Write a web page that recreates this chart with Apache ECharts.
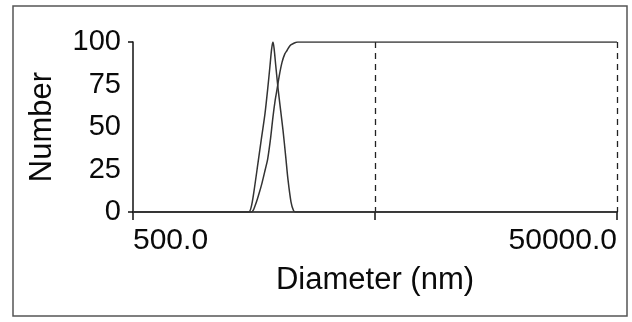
<!DOCTYPE html>
<html>
<head>
<meta charset="utf-8">
<script src="https://cdn.jsdelivr.net/npm/echarts@6.0.0/dist/echarts.min.js"></script>
<style>
    html, body { margin: 0; padding: 0; background: #fff; }
    #main { width: 632px; height: 322px; }
</style>
</head>
<body>
<div id="main"></div>
<script>
// size distribution (Number %) vs diameter in nm
var distDiameter = [500, 1500, 1540, 1580, 1643, 1700, 1756, 1800, 1841, 1870, 1894, 1915, 1945, 1990, 2040, 2084, 2140, 2185, 2248, 2300, 2340, 50000];
var distNumber = [0, 0, 3, 12, 29, 44, 58, 72, 86, 96, 100, 96, 86, 72, 59, 48, 32, 19, 6, 1, 0, 0];

// cumulative curve
var cumDiameter = [500, 1540, 1600, 1660, 1706, 1760, 1800, 1850, 1894, 1935, 1968, 2010, 2064, 2120, 2165, 2230, 2291, 2400, 50000];
var cumNumber = [0, 0, 4, 11, 17, 25, 31, 43, 56, 66, 72, 80, 88, 93, 95, 98, 99, 100, 100];

var xMinNm = 500;
var xTickLabels = ['500.0', '', '50000.0'];
var yTickValues = [0, 25, 50, 75, 100];

// x axis is drawn in decades above 500 nm (log scale)
function toDecades(d) {
    return Math.log10(d / xMinNm);
}
function makePairs(xs, ys) {
    var out = [];
    for (var i = 0; i < xs.length; i++) {
        out.push([toDecades(xs[i]), ys[i]]);
    }
    return out;
}

var chart = echarts.init(document.getElementById('main'));
var font = 'Liberation Sans, Arial, sans-serif';
var option = {
    backgroundColor: '#fff',
    animation: false,
    grid: {
        left: 133,
        right: 15,
        top: 42,
        bottom: 110,
        outerBoundsMode: 'none'
    },
    graphic: [
        {
            type: 'rect',
            shape: { x: 13, y: 6, width: 614, height: 310 },
            style: { fill: 'none', stroke: '#555', lineWidth: 1.5 },
            silent: true
        }
    ],
    xAxis: {
        type: 'value',
        min: 0,
        max: 2,
        interval: 1,
        name: 'Diameter (nm)',
        nameLocation: 'middle',
        nameGap: 53,
        nameTextStyle: { fontFamily: font, fontSize: 31, color: '#0a0a0a' },
        axisLine: { lineStyle: { color: '#111', width: 1.5 } },
        axisTick: { show: true, length: 8, lineStyle: { color: '#111', width: 1.5 } },
        axisLabel: {
            margin: 14,
            fontFamily: font,
            fontSize: 30,
            color: '#0a0a0a',
            showMinLabel: true,
            showMaxLabel: true,
            alignMinLabel: 'left',
            alignMaxLabel: 'right',
            formatter: function (v) {
                return xTickLabels[Math.round(v)] || '';
            }
        },
        splitLine: {
            show: true,
            showMinLine: false,
            lineStyle: { color: '#222', type: [6, 5], width: 1.3 }
        }
    },
    yAxis: {
        type: 'value',
        min: 0,
        max: 100,
        interval: 25,
        name: 'Number',
        nameLocation: 'middle',
        nameRotate: 90,
        nameGap: 75,
        nameTextStyle: { fontFamily: font, fontSize: 31, color: '#0a0a0a' },
        axisLine: { show: true, lineStyle: { color: '#111', width: 1.5 } },
        axisTick: { show: true, length: 5, customValues: [0, 100], lineStyle: { color: '#111', width: 1.5 } },
        axisLabel: {
            margin: 12,
            fontFamily: font,
            fontSize: 29,
            color: '#0a0a0a',
            customValues: yTickValues
        },
        splitLine: { show: false }
    },
    series: [
        {
            name: 'distribution',
            type: 'line',
            data: makePairs(distDiameter, distNumber),
            smooth: 0.3,
            showSymbol: false,
            lineStyle: { color: '#333', width: 1.5 }
        },
        {
            name: 'cumulative',
            type: 'line',
            data: makePairs(cumDiameter, cumNumber),
            smooth: 0.3,
            showSymbol: false,
            lineStyle: { color: '#333', width: 1.5 }
        }
    ]
};
chart.setOption(option);
</script>
</body>
</html>
